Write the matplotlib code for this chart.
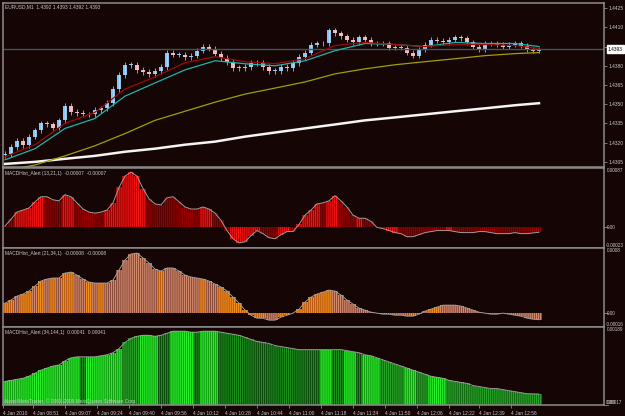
import numpy as np
import matplotlib
matplotlib.use("Agg")
import matplotlib.pyplot as plt

W, H = 625, 416
BG = "#150505"
FRAME = "#8c8c8c"
TXT = "#c8c8c8"
FS = 3.5
plt.rcParams["font.family"] = ["Liberation Sans", "DejaVu Sans"]
plt.rcParams["hatch.linewidth"] = 0.6

# ---- price panel (one sample every 3 bars) ----
closes = [1.43113, 1.43168, 1.43216, 1.43184, 1.43247, 1.43295, 1.43350, 1.43342, 1.43318, 1.43374,
          1.43484, 1.43437, 1.43429, 1.43421, 1.43421, 1.43453, 1.43468, 1.43508, 1.43618, 1.43729,
          1.43808, 1.43808, 1.43768, 1.43753, 1.43737, 1.43761, 1.43792, 1.43903, 1.43887, 1.43887,
          1.43871, 1.43879, 1.43918, 1.43950, 1.43934, 1.43895, 1.43863, 1.43832, 1.43784, 1.43784,
          1.43792, 1.43824, 1.43824, 1.43792, 1.43761, 1.43761, 1.43792, 1.43784, 1.43824, 1.43871,
          1.43903, 1.43966, 1.43974, 1.43974, 1.44076, 1.44053, 1.44029, 1.44005, 1.43982, 1.44021,
          1.44005, 1.43974, 1.43974, 1.43974, 1.43942, 1.43942, 1.43942, 1.43903, 1.43879, 1.43926,
          1.43966, 1.44005, 1.43997, 1.43982, 1.44005, 1.44021, 1.44013, 1.43982, 1.43950, 1.43926,
          1.43974, 1.43974, 1.43966, 1.43950, 1.43966, 1.43974, 1.43958, 1.43926, 1.43918, 1.43926]

# moving averages, one sample every 15 bars
ma_bars = [0, 15, 30, 45, 60, 75, 90, 105, 120, 135, 150, 165, 180, 195, 210, 225, 240, 255, 267]
ma_red = [1.43089, 1.43184, 1.43350, 1.43437, 1.43618, 1.43713, 1.43824, 1.43871, 1.43832, 1.43816,
          1.43855, 1.43958, 1.43982, 1.43966, 1.43950, 1.43966, 1.43966, 1.43958, 1.43934]
ma_cyan = [1.43066, 1.43153, 1.43311, 1.43389, 1.43563, 1.43666, 1.43768, 1.43839, 1.43816, 1.43800,
           1.43839, 1.43918, 1.43974, 1.43966, 1.43950, 1.43982, 1.43974, 1.43974, 1.43950]
ma_olive = [1.42979, 1.43026, 1.43097, 1.43176, 1.43271, 1.43374, 1.43445, 1.43516, 1.43579, 1.43626,
            1.43674, 1.43737, 1.43776, 1.43808, 1.43832, 1.43855, 1.43879, 1.43895, 1.43903]
ma_white = [1.43034, 1.43050, 1.43074, 1.43097, 1.43129, 1.43153, 1.43184, 1.43208, 1.43247, 1.43279,
            1.43311, 1.43342, 1.43374, 1.43397, 1.43421, 1.43445, 1.43468, 1.43492, 1.43508]

last_price = 1.4393
price_ticks = [1.4305, 1.4320, 1.4335, 1.4350, 1.4365, 1.4380, 1.4395, 1.4410, 1.4425]

# ---- MACD histograms ----
macd1 = [0.00002, 0.00012, 0.000225, 0.000255, 0.000285, 0.000375, 0.00045, 0.00045, 0.000405, 0.00039,
         0.00048, 0.00045, 0.00036, 0.00027, 0.000225, 0.00021, 0.000225, 0.000255, 0.00036, 0.000585,
         0.00075, 0.00081, 0.00075, 0.00057, 0.00042, 0.000345, 0.00033, 0.000435, 0.00045, 0.000375,
         0.0003, 0.00027, 0.00027, 0.0003, 0.00027, 0.00021, 0.000105, -0.000045, -0.000165, -0.000225,
         -0.00021, -0.00012, -0.000045, -0.00009, -0.00015, -0.000165, -0.000105, -0.00006, -0.00006, 0.000045,
         0.00018, 0.000255, 0.000345, 0.00036, 0.00039, 0.000465, 0.00039, 0.0003, 0.00018, 0.000135,
         0.000135, 0.00009, 0.0, -0.000015, -0.000045, -0.000075, -0.00009, -0.000135, -0.000135, -0.000105,
         -0.000075, -0.00006, -0.000045, -0.000045, -0.000045, -0.00006, -0.000075, -0.000075, -0.000075, -0.00006,
         -0.00006, -0.000075, -0.00009, -0.00009, -0.00009, -0.000075, -0.00009, -0.00009, -0.00008, -0.00007]
codes1 = ("DDRRRRRDDDRRDDDDD" "RRRRRRR" "DDDDDDDDD" "RRD" "DDR" "RRRRD" "DDRRD" "RRRRDRR" "DDDRD"
          "DDDRRDDDDDDDDRDDDDDDDDDDDDDDD")

macd2 = [0.000123, 0.00016, 0.000209, 0.000234, 0.000271, 0.000332, 0.000394, 0.000418, 0.000431, 0.000431,
         0.000492, 0.000504, 0.000467, 0.000418, 0.000381, 0.000369, 0.000369, 0.000369, 0.000406, 0.000529,
         0.000652, 0.000726, 0.000738, 0.000677, 0.000615, 0.000541, 0.000517, 0.000554, 0.000554, 0.000517,
         0.000467, 0.000443, 0.000431, 0.000418, 0.000394, 0.000357, 0.00032, 0.000271, 0.000197, 0.000123,
         0.000037, -0.000025, -0.000062, -0.000062, -0.000086, -0.000086, -0.000049, -0.000025, 0.0, 0.000049,
         0.000135, 0.000197, 0.000234, 0.000258, 0.000283, 0.000271, 0.000221, 0.00016, 0.000111, 0.000062,
         0.000037, 0.000012, 0.0, -0.000012, -0.000012, -0.000025, -0.000025, -0.000037, -0.000037, -0.000012,
         0.000025, 0.000049, 0.000074, 0.000098, 0.000098, 0.000098, 0.000086, 0.000062, 0.000037, 0.000012,
         0.0, -0.000012, -0.000012, 0.0, -0.000012, -0.000025, -0.000037, -0.000062, -0.000074, -0.00008]
codes2 = ("OOSOOSOSOSOOSSOSOS" "SSSSSSSSOSS" "SSSSOSS" "OOOOOOOOSS" "OOOOOOOOOS" "SSSSSSOOSS"
          "SSOOSOOSSSSSSSSSOSSSSSSS")

macd3 = [0.00069, 0.000712, 0.000735, 0.000758, 0.000803, 0.000871, 0.000938, 0.000984, 0.001029, 0.001051,
         0.001142, 0.00121, 0.001232, 0.001232, 0.001232, 0.001232, 0.001255, 0.001277, 0.001323, 0.001413,
         0.001549, 0.001639, 0.001684, 0.001707, 0.001707, 0.001684, 0.001707, 0.001752, 0.001797, 0.001797,
         0.001797, 0.001775, 0.001775, 0.001797, 0.001797, 0.001797, 0.001775, 0.001752, 0.001729, 0.001707,
         0.001662, 0.001616, 0.001571, 0.001549, 0.001526, 0.001481, 0.001458, 0.001436, 0.001413, 0.00139,
         0.00139, 0.00139, 0.00139, 0.00139, 0.00139, 0.00139, 0.00139, 0.001368, 0.001345, 0.001323,
         0.001277, 0.001255, 0.00121, 0.001164, 0.001119, 0.001074, 0.001029, 0.000984, 0.000938, 0.000893,
         0.000848, 0.000803, 0.00078, 0.000758, 0.000712, 0.00069, 0.000667, 0.000645, 0.000599, 0.000577,
         0.000554, 0.000532, 0.000532, 0.000509, 0.000486, 0.000464, 0.000441, 0.000419, 0.000415, 0.00041]
codes3 = ("GGGGGGGGGGGGGKGGGGGGMMMGGGKKGGGGKGGG" "KKKKKKKKKKKKKKKKK" "GGKKGGKGGGMMMMGGMMGGG"
          "MMMMMMMMMMMMMMMM")

time_bars = [-1, 14, 30, 46, 62, 78, 94, 110, 126, 142, 158, 174, 190, 206, 222, 237, 253]
time_labels = ["4 Jan 2010", "4 Jan 08:51", "4 Jan 09:07", "4 Jan 09:24", "4 Jan 09:40", "4 Jan 09:56",
               "4 Jan 10:12", "4 Jan 10:28", "4 Jan 10:44", "4 Jan 11:00", "4 Jan 11:18", "4 Jan 11:34",
               "4 Jan 11:50", "4 Jan 12:06", "4 Jan 12:22", "4 Jan 12:39", "4 Jan 12:56"]

palette = {
    "R": ("#9a0000", "#ff1a1a"),
    "D": ("#5a0000", "#a00000"),
    "O": ("#b85a10", "#ff9a20"),
    "S": ("#8a4a3a", "#e49a7a"),
    "G": ("#10a010", "#30ff30"),
    "M": ("#106a10", "#30b030"),
    "K": ("#0a4a0a", "#20a020"),
}


def box(x0, y0, x1, y1):
    return [x0 / W, 1 - y1 / H, (x1 - x0) / W, (y1 - y0) / H]


def style(ax):
    ax.set_facecolor(BG)
    for sp in ax.spines.values():
        sp.set_color(FRAME)
        sp.set_linewidth(1.1)
    ax.set_xlim(-1, 299.5)
    ax.tick_params(axis="both", colors=FRAME, labelcolor=TXT, labelsize=FS, length=2, width=0.6, pad=1.5)
    ax.yaxis.tick_right()
    ax.set_xticks([])


def histogram(ax, vals, codes, lo, hi, labels, title):
    style(ax)
    x = np.arange(len(vals)) * 3
    for xi, v, c in zip(x, vals, codes):
        fc, hc = palette[c]
        ax.bar(xi, v, width=3, color=fc, edgecolor=hc, linewidth=0, hatch="||||||||")
    ax.plot(x, vals, color="#9c9c9c", lw=0.7)
    ax.set_ylim(lo, hi)
    ax.set_yticks([])
    top, zero, bottom = labels
    ax.text(1.005, 0.995, top, transform=ax.transAxes, ha="left", va="top", fontsize=FS - 0.2, color=TXT)
    ax.text(1.003, 0.005, bottom, transform=ax.transAxes, ha="left", va="bottom", fontsize=FS - 0.2, color=TXT)
    zy = 0 if lo < 0 else lo
    ax.annotate(zero, xy=(1.0, zy), xycoords=("axes fraction", "data"), xytext=(2, 0),
                textcoords="offset points", ha="left", va="center" if lo < 0 else "bottom",
                fontsize=FS - 0.2, color=TXT)
    ax.plot([1.0, 1.006], [zy, zy], transform=ax.get_yaxis_transform(), color=FRAME, lw=0.6, clip_on=False)
    ax.text(0.003, 0.965, title, transform=ax.transAxes, ha="left", va="top", fontsize=FS, color=TXT)


fig = plt.figure(figsize=(W / 100, H / 100), dpi=100, facecolor=BG)

# main price chart
ax = fig.add_axes(box(3, 3, 604, 167))
style(ax)
opens = [closes[0] - 0.0001] + closes[:-1]
cx = np.arange(len(closes)) * 3
for xi, o, c in zip(cx, opens, closes):
    col = "#8cc4ee" if c >= o else "#eeb4bc"
    lo_, hi_ = min(o, c), max(o, c)
    ax.vlines(xi, lo_ - 0.00022, hi_ + 0.00022, color="#d8d8d8", lw=0.5)
    ax.bar(xi, max(hi_ - lo_, 0.00004), bottom=lo_, width=1.6, color=col, linewidth=0)
ax.axhline(last_price, color="#3a5656", lw=1.0)
ax.plot(ma_bars, ma_white, color="#f4f4f4", lw=1.8)
ax.plot(ma_bars, ma_olive, color="#a0a000", lw=0.9)
ax.plot(ma_bars, ma_cyan, color="#20b2aa", lw=0.9)
ax.plot(ma_bars, ma_red, color="#9a0a0a", lw=0.9)
ax.set_ylim(1.43010, 1.44290)
ax.set_yticks(price_ticks)
ax.set_yticklabels(["" if abs(t - 1.4395) < 1e-6 else f"{t:.4f}" for t in price_ticks])
ax.text(1.0065, last_price, f"{last_price:.4f}", transform=ax.get_yaxis_transform(), ha="left", va="center",
        fontsize=FS, color="black", bbox=dict(boxstyle="square,pad=0.25", fc="white", ec="white"))
ax.text(0.003, 0.99, "EURUSD,M1  1.4392 1.4393 1.4392 1.4393", transform=ax.transAxes, ha="left", va="top",
        fontsize=FS, color=TXT)

ax2 = fig.add_axes(box(3, 168, 604, 248))
histogram(ax2, macd1, codes1, -0.0003, 0.00087, ("0.00087", "0.00", "-0.00023"),
          "MACDHist_Alert (13,21,1)  -0.00007  -0.00007")

ax3 = fig.add_axes(box(3, 248, 604, 327))
histogram(ax3, macd2, codes2, -0.00017, 0.0008, ("0.0008", "0.00", "-0.00016"),
          "MACDHist_Alert (21,34,1)  -0.00008  -0.00008")

ax4 = fig.add_axes(box(3, 327, 604, 405))
histogram(ax4, macd3, codes3, 0.00017, 0.00189, ("0.00189", "0.00", "0.00017"),
          "MACDHist_Alert (34,144,1)  0.00041  0.00041")
ax4.set_xticks(time_bars)
ax4.set_xticklabels(time_labels, ha="left", fontsize=FS)
ax4.tick_params(axis="x", length=2.5, pad=2)
ax4.text(0.001, 0.01, "Alpari MetaTrader, \u00a9 2001-2009 MetaQuotes Software Corp.", transform=ax4.transAxes,
         ha="left", va="bottom", fontsize=FS, color=TXT)

fig.savefig("out.png", dpi=100, facecolor=BG)
